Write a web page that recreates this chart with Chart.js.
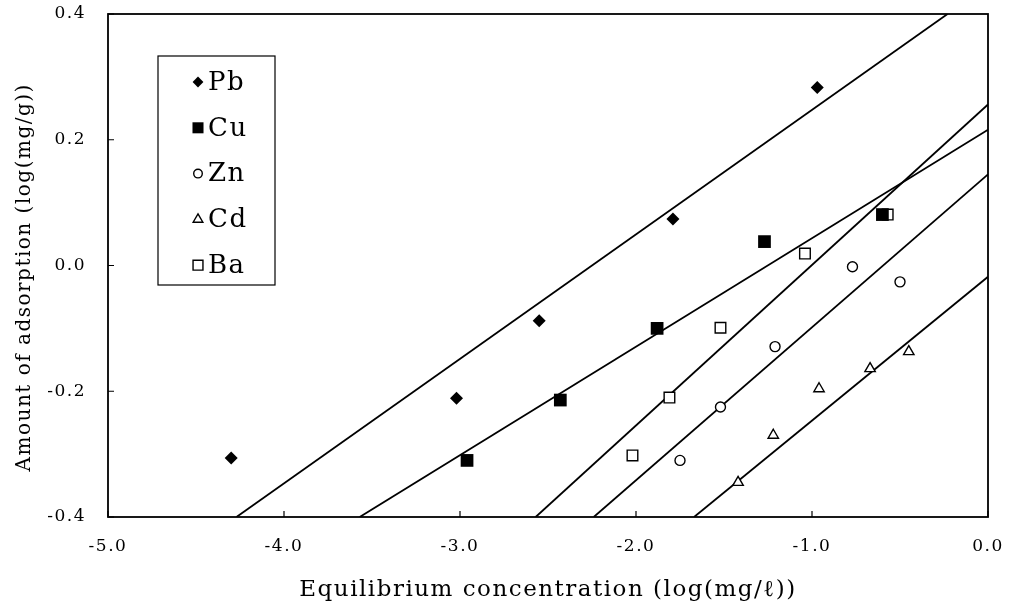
<!DOCTYPE html>
<html>
<head>
<meta charset="utf-8">
<title>Adsorption isotherms</title>
<script src="https://cdn.jsdelivr.net/npm/chart.js@4/dist/chart.umd.min.js"></script>
<style>
  html, body { margin: 0; padding: 0; background: #fff; }
  #wrap { width: 1015px; height: 611px; position: relative; }
</style>
</head>
<body>
<div id="wrap"><canvas id="isoChart" width="1015" height="611"></canvas></div>
<script>
// measured points: log of equilibrium concentration vs log of amount adsorbed
var pbX = [-4.30, -3.02, -2.55, -1.79, -0.97];
var pbY = [-0.306, -0.211, -0.088, 0.074, 0.283];
var cuX = [-2.96, -2.43, -1.88, -1.27, -0.60];
var cuY = [-0.310, -0.214, -0.100, 0.038, 0.081];
var znX = [-1.75, -1.52, -1.21, -0.77, -0.50];
var znY = [-0.310, -0.225, -0.129, -0.002, -0.026];
var cdX = [-1.42, -1.22, -0.96, -0.67, -0.45];
var cdY = [-0.345, -0.270, -0.196, -0.164, -0.137];
var baX = [-2.02, -1.81, -1.52, -1.04, -0.57];
var baY = [-0.302, -0.210, -0.099, 0.019, 0.081];

// fitted lines, start and end points
var pbLineX = [-4.27, -0.23];
var pbLineY = [-0.4, 0.4];
var cuLineX = [-3.57, 0.0];
var cuLineY = [-0.4, 0.216];
var znLineX = [-2.24, 0.0];
var znLineY = [-0.4, 0.145];
var cdLineX = [-1.67, 0.0];
var cdLineY = [-0.4, -0.018];
var baLineX = [-2.57, 0.0];
var baLineY = [-0.4, 0.256];

var xTicks = [-5, -4, -3, -2, -1, 0];
var yTicks = [-0.4, -0.2, 0.0, 0.2, 0.4];

var serif = '"DejaVu Serif", "Liberation Serif", serif';

function pts(xs, ys) {
    var out = [];
    for (var i = 0; i < xs.length; i++) out.push({ x: xs[i], y: ys[i] });
    return out;
}

function points(label, xs, ys, style, radius, filled, legendRadius) {
    return {
        label: label,
        data: pts(xs, ys),
        pointStyle: style,
        pointRadius: radius,
        pointHoverRadius: radius,
        pointBackgroundColor: filled ? '#000' : '#fff',
        pointBorderColor: '#000',
        pointBorderWidth: filled ? 0 : 1.4,
        showLine: false,
        legendRadius: legendRadius,
        order: 1
    };
}

function fitLine(xs, ys) {
    return {
        label: '',
        data: pts(xs, ys),
        showLine: true,
        borderColor: '#000',
        borderWidth: 1.8,
        pointRadius: 0,
        pointHoverRadius: 0,
        order: 2
    };
}

// frame, inward tick marks and the boxed legend
var framePlugin = {
    id: 'frame',
    beforeDraw: function(chart) {
        chart.ctx.letterSpacing = '1.5px';
    },
    afterDraw: function(chart) {
        var ctx = chart.ctx;
        var a = chart.chartArea;
        var xs = chart.scales.x, ys = chart.scales.y;
        ctx.save();
        ctx.strokeStyle = '#000';
        ctx.lineWidth = 1.8;
        ctx.strokeRect(a.left, a.top, a.right - a.left, a.bottom - a.top);

        ctx.lineWidth = 1.2;
        ctx.beginPath();
        xTicks.forEach(function(v) {
            var px = xs.getPixelForValue(v);
            ctx.moveTo(px, a.bottom);
            ctx.lineTo(px, a.bottom - 6);
        });
        yTicks.forEach(function(v) {
            var py = ys.getPixelForValue(v);
            ctx.moveTo(a.left, py);
            ctx.lineTo(a.left + 6, py);
        });
        ctx.stroke();

        // legend box
        var bx = 158, by = 56, bw = 117, bh = 229;
        ctx.fillStyle = '#fff';
        ctx.fillRect(bx, by, bw, bh);
        ctx.lineWidth = 1.2;
        ctx.strokeRect(bx, by, bw, bh);

        var sets = chart.data.datasets.filter(function(d) { return d.showLine === false; });
        ctx.font = '26px ' + serif;
        ctx.textBaseline = 'middle';
        ctx.textAlign = 'left';
        sets.forEach(function(d, i) {
            var cy = 82 + i * 45.8;
            ctx.fillStyle = d.pointBackgroundColor;
            ctx.strokeStyle = '#000';
            ctx.lineWidth = d.pointBorderWidth || 0.001;
            var opts = { pointStyle: d.pointStyle, radius: d.legendRadius, rotation: 0, borderWidth: d.pointBorderWidth };
            Chart.helpers.drawPoint(ctx, opts, 198, cy);
            ctx.fillStyle = '#000';
            ctx.fillText(d.label, 208, cy + 1);
        });
        ctx.restore();
    }
};

var ctx = document.getElementById('isoChart').getContext('2d');
var isoChart = new Chart(ctx, {
    type: 'scatter',
    data: {
        datasets: [
            points('Pb', pbX, pbY, 'rectRot', 6.5, true, 5.4),
            points('Cu', cuX, cuY, 'rect', 9, true, 7.8),
            points('Zn', znX, znY, 'circle', 5, false, 4.3),
            points('Cd', cdX, cdY, 'triangle', 6, false, 5.6),
            points('Ba', baX, baY, 'rect', 7.5, false, 7),
            fitLine(pbLineX, pbLineY),
            fitLine(cuLineX, cuLineY),
            fitLine(znLineX, znLineY),
            fitLine(cdLineX, cdLineY),
            fitLine(baLineX, baLineY)
        ]
    },
    options: {
        responsive: false,
        animation: false,
        events: [],
        layout: { padding: { top: 14, right: 27, left: 0, bottom: 0 } },
        plugins: {
            legend: { display: false },
            tooltip: { enabled: false }
        },
        scales: {
            x: {
                type: 'linear',
                min: -5,
                max: 0,
                afterBuildTicks: function(s) { s.ticks = xTicks.map(function(v) { return { value: v }; }); },
                afterFit: function(s) { s.height = 94; s.paddingLeft = 0; s.paddingRight = 0; },
                grid: { display: false, drawTicks: false },
                border: { display: false },
                ticks: {
                    padding: 19,
                    color: '#000',
                    font: { family: serif, size: 17 },
                    callback: function(v) { return v.toFixed(1); }
                },
                title: {
                    display: true,
                    text: 'Equilibrium concentration (log(mg/\u2113))',
                    color: '#000',
                    font: { family: serif, size: 23 },
                    padding: { top: 0, bottom: 7 }
                }
            },
            y: {
                type: 'linear',
                min: -0.4,
                max: 0.4,
                afterBuildTicks: function(s) { s.ticks = yTicks.map(function(v) { return { value: v }; }); },
                afterFit: function(s) { s.width = 108; s.paddingTop = 0; s.paddingBottom = 0; },
                grid: { display: false, drawTicks: false },
                border: { display: false },
                ticks: {
                    padding: 22,
                    color: '#000',
                    font: { family: serif, size: 17 },
                    callback: function(v) { return v.toFixed(1); }
                },
                title: {
                    display: true,
                    // trailing spaces push the centred title a little lower
                    text: 'Amount of adsorption (log(mg/g))   ',
                    color: '#000',
                    font: { family: serif, size: 20 },
                    padding: { top: 13, bottom: 0 }
                }
            }
        }
    },
    plugins: [framePlugin]
});
</script>
</body>
</html>
